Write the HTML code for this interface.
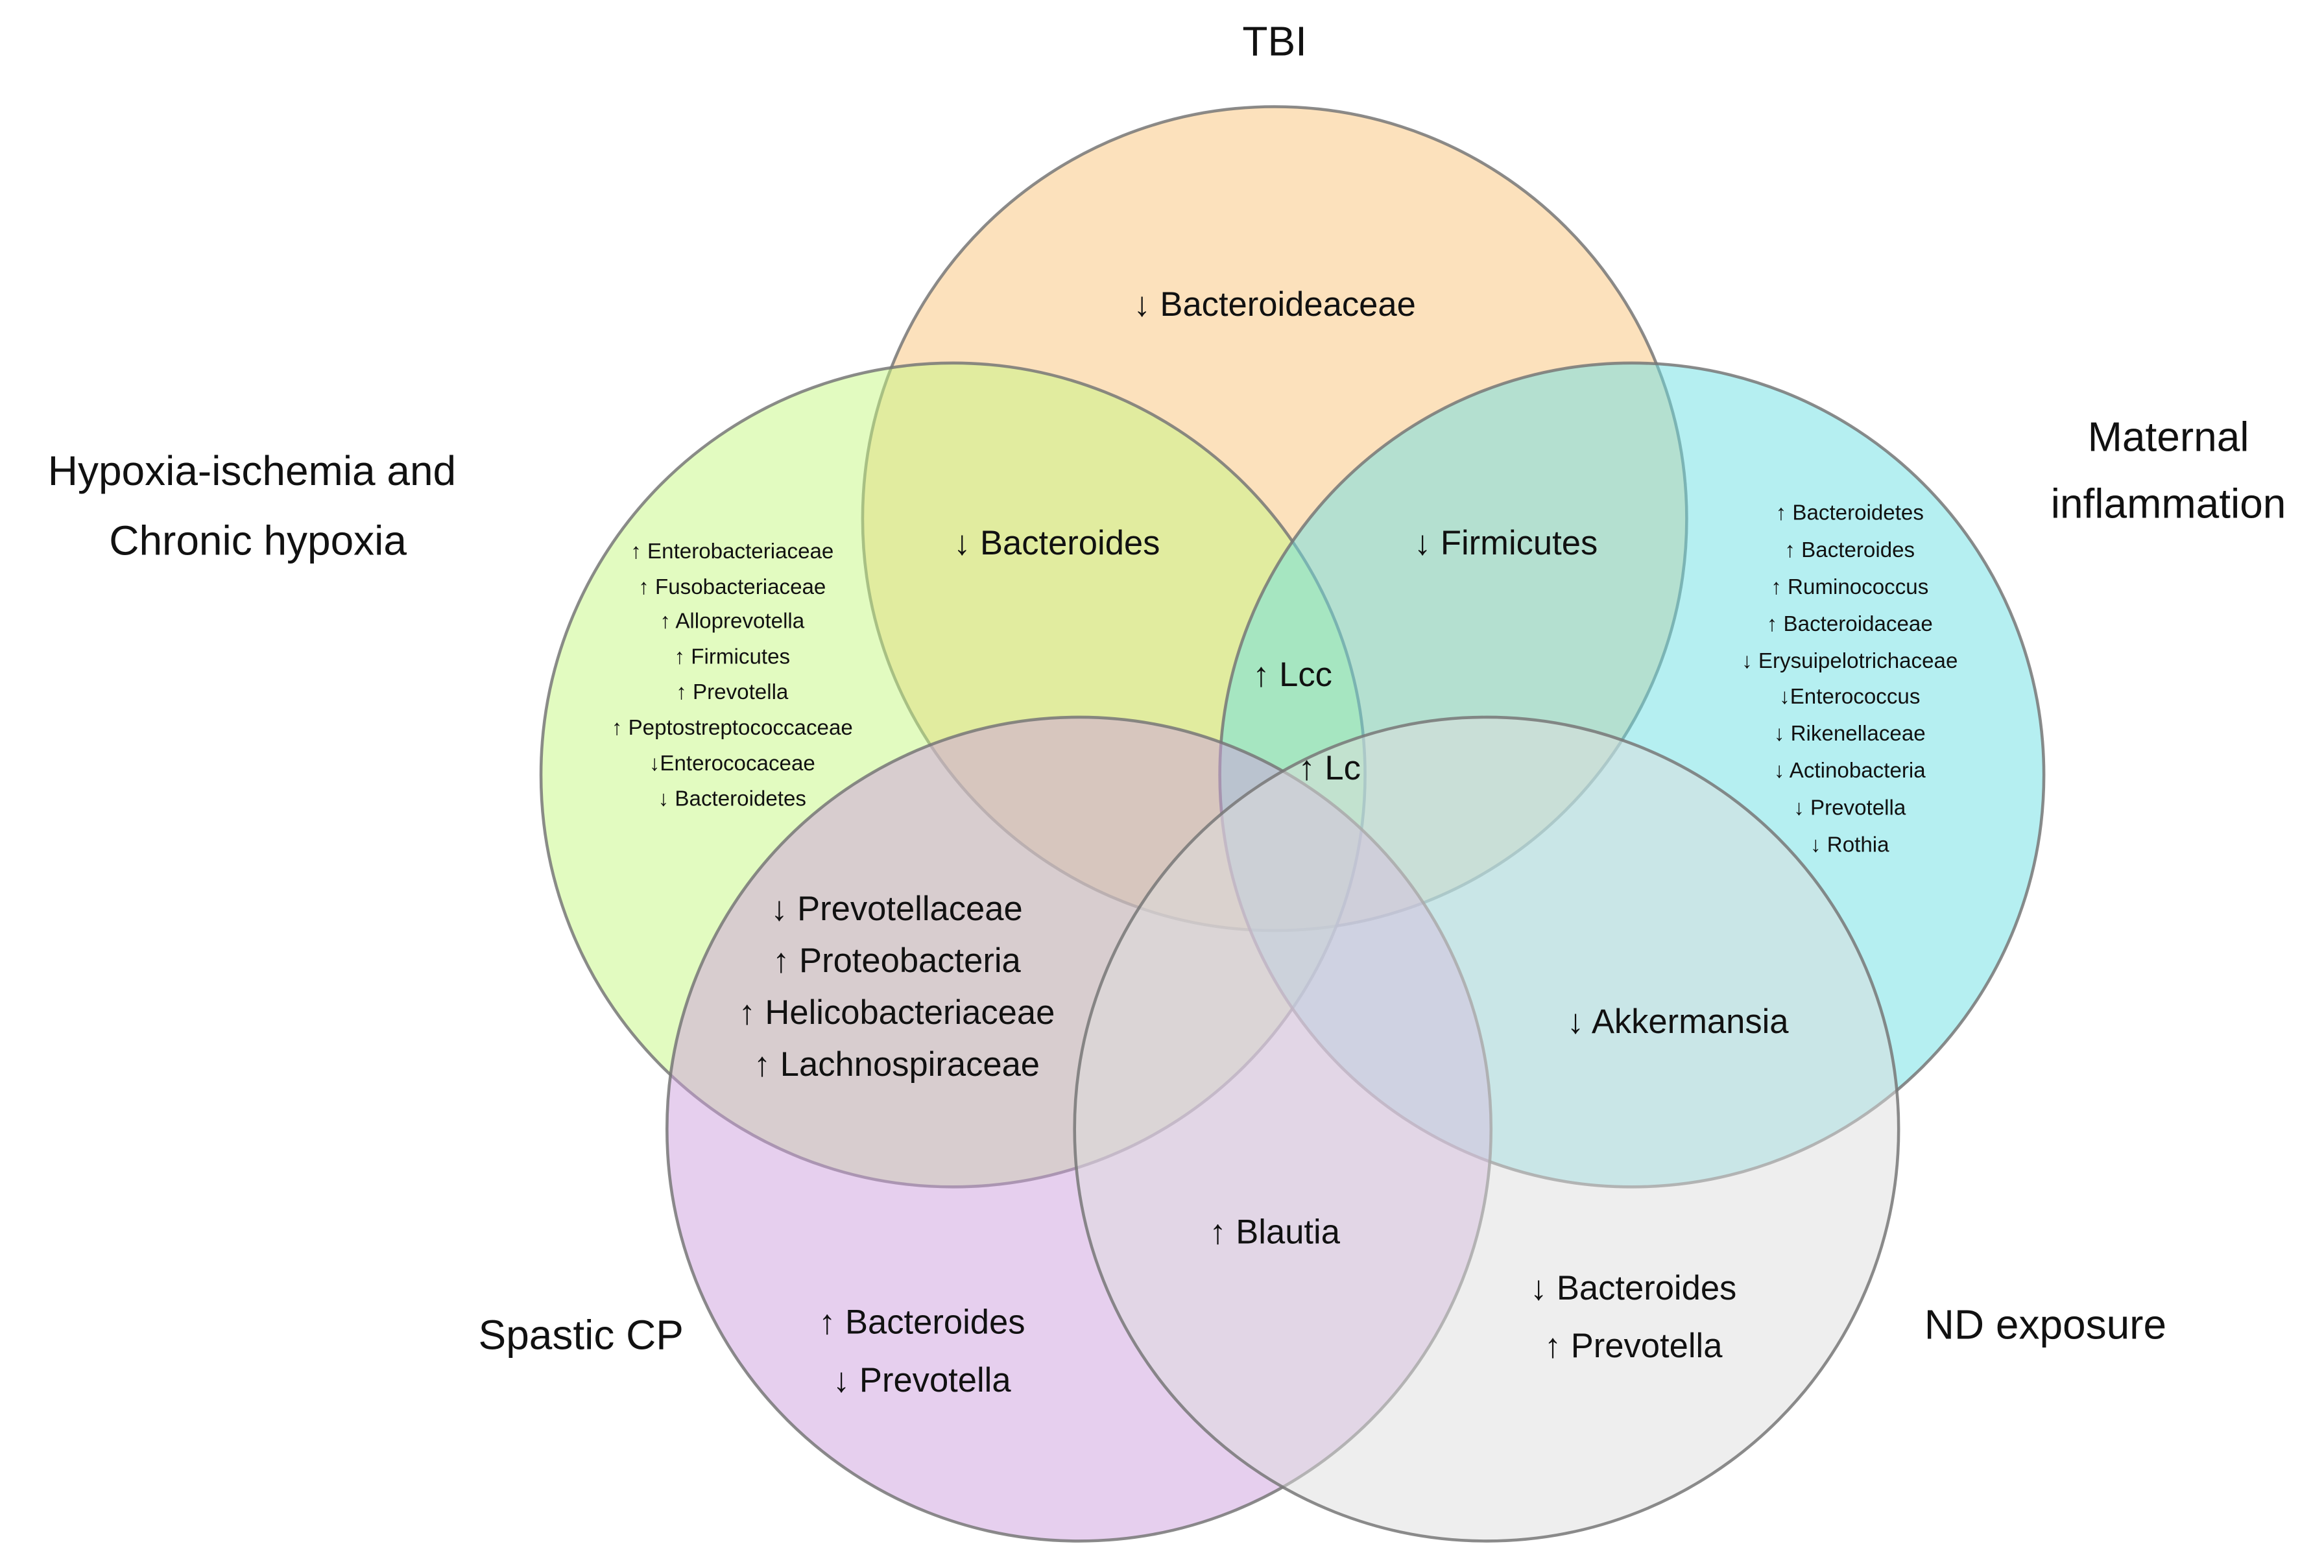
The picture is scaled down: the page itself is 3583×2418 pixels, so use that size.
<!DOCTYPE html>
<html><head><meta charset="utf-8"><style>
html,body{margin:0;padding:0;background:#fff;}
svg{display:block;}
text{font-family:"Liberation Sans","DejaVu Sans",sans-serif;fill:#111;text-anchor:middle;dominant-baseline:middle;}
.l{font-size:28px;}
.m{font-size:23px;}
.s{font-size:14.5px;}
</style></head><body>
<svg width="3583" height="2418" viewBox="0 0 1568 1058.2" preserveAspectRatio="none" xmlns="http://www.w3.org/2000/svg">
<rect width="1568" height="1058.2" fill="#fff"/>
<g stroke="#777" stroke-width="2" stroke-opacity="0.85">
<circle cx="860" cy="350" r="278" fill="rgb(250,196,122)" fill-opacity="0.5"/>
<circle cx="643" cy="523" r="278" fill="rgb(198,248,130)" fill-opacity="0.5"/>
<circle cx="1101" cy="523" r="278" fill="rgb(108,224,228)" fill-opacity="0.5"/>
<circle cx="728" cy="762" r="278" fill="rgb(205,160,222)" fill-opacity="0.5"/>
<circle cx="1003" cy="762" r="278" fill="rgb(222,222,222)" fill-opacity="0.5"/>
</g>
<text class="l" x="860" y="30">TBI</text>
<text class="l" x="170" y="320">Hypoxia-ischemia and</text>
<text class="l" x="174" y="367">Chronic hypoxia</text>
<text class="l" x="1463" y="297">Maternal</text>
<text class="l" x="1463" y="342">inflammation</text>
<text class="l" x="392" y="903">Spastic CP</text>
<text class="l" x="1380" y="896">ND exposure</text>
<text class="m" x="860" y="207">↓ Bacteroideaceae</text>
<text class="m" x="713" y="368">↓ Bacteroides</text>
<text class="m" x="1016" y="368">↓ Firmicutes</text>
<text class="m" x="872" y="457">↑ Lcc</text>
<text class="m" x="897" y="520">↑ Lc</text>
<g class="s">
<text class="s" x="494" y="373">↑ Enterobacteriaceae</text>
<text class="s" x="494" y="397">↑ Fusobacteriaceae</text>
<text class="s" x="494" y="420">↑ Alloprevotella</text>
<text class="s" x="494" y="444">↑ Firmicutes</text>
<text class="s" x="494" y="468">↑ Prevotella</text>
<text class="s" x="494" y="492">↑ Peptostreptococcaceae</text>
<text class="s" x="494" y="516">↓Enterococaceae</text>
<text class="s" x="494" y="540">↓ Bacteroidetes</text>
<text class="s" x="1248" y="347">↑ Bacteroidetes</text>
<text class="s" x="1248" y="372">↑ Bacteroides</text>
<text class="s" x="1248" y="397">↑ Ruminococcus</text>
<text class="s" x="1248" y="422">↑ Bacteroidaceae</text>
<text class="s" x="1248" y="447">↓ Erysuipelotrichaceae</text>
<text class="s" x="1248" y="471">↓Enterococcus</text>
<text class="s" x="1248" y="496">↓ Rikenellaceae</text>
<text class="s" x="1248" y="521">↓ Actinobacteria</text>
<text class="s" x="1248" y="546">↓ Prevotella</text>
<text class="s" x="1248" y="571">↓ Rothia</text>
</g>
<text class="m" x="605" y="615">↓ Prevotellaceae</text>
<text class="m" x="605" y="650">↑ Proteobacteria</text>
<text class="m" x="605" y="685">↑ Helicobacteriaceae</text>
<text class="m" x="605" y="720">↑ Lachnospiraceae</text>
<text class="m" x="1132" y="691">↓ Akkermansia</text>
<text class="m" x="860" y="833">↑ Blautia</text>
<text class="m" x="622" y="894">↑ Bacteroides</text>
<text class="m" x="622" y="933">↓ Prevotella</text>
<text class="m" x="1102" y="871">↓ Bacteroides</text>
<text class="m" x="1102" y="910">↑ Prevotella</text>
</svg>
</body></html>
